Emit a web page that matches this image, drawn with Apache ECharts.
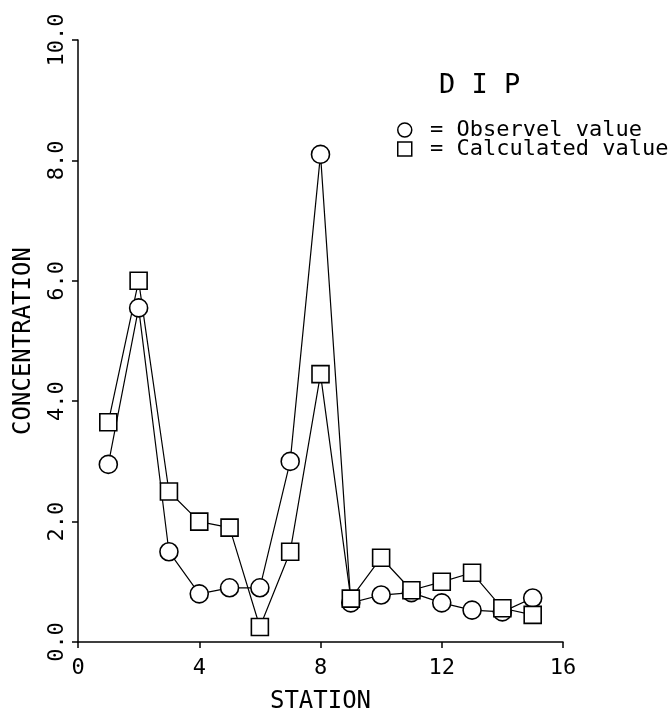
<!DOCTYPE html>
<html>
<head>
<meta charset="utf-8">
<title>DIP</title>
<script src="https://cdn.jsdelivr.net/npm/echarts@6/dist/echarts.min.js"></script>
<style>
  html, body { margin: 0; padding: 0; background: #fff; }
  #chart { width: 670px; height: 715px; }
</style>
</head>
<body>
<div id="chart"></div>
<script>
// station numbers
var stations = [1, 2, 3, 4, 5, 6, 7, 8, 9, 10, 11, 12, 13, 14, 15];
// observed DIP concentration (circles)
var observed = [2.95, 5.55, 1.5, 0.8, 0.9, 0.9, 3.0, 8.1, 0.65, 0.78, 0.82, 0.65, 0.53, 0.5, 0.73];
// calculated DIP concentration (squares)
var calculated = [3.65, 6.0, 2.5, 2.0, 1.9, 0.25, 1.5, 4.45, 0.72, 1.4, 0.86, 1.0, 1.15, 0.56, 0.45];

var FONT = "DejaVu Sans Mono";

function pairs(xs, ys) {
  return xs.map(function (x, i) { return [x, ys[i]]; });
}

var chart = echarts.init(document.getElementById("chart"));

var option = {
  backgroundColor: "#fff",
  animation: false,
  title: {
    text: "D I P",
    left: 434,
    top: 67,
    textStyle: { fontFamily: FONT, fontSize: 27, fontWeight: "normal", color: "#000" }
  },
  legend: {
    orient: "vertical",
    left: 392,
    top: 114,
    itemGap: -3,
    itemWidth: 14,
    itemHeight: 14,
    formatter: " = {name}",
    textStyle: { fontFamily: FONT, fontSize: 22, color: "#000", lineHeight: 19 },
    data: [
      { name: "Observel value", icon: "circle",
        itemStyle: { color: "#fff", borderColor: "#000", borderWidth: 1.5 } },
      { name: "Calculated value", icon: "rect",
        itemStyle: { color: "#fff", borderColor: "#000", borderWidth: 1.5 } }
    ]
  },
  grid: { left: 78, right: 107, top: 40, bottom: 73, outerBoundsMode: "none" },
  xAxis: {
    type: "value",
    min: 0,
    max: 16,
    interval: 4,
    name: "STATION",
    nameLocation: "middle",
    nameGap: 48,
    nameTextStyle: { fontFamily: FONT, fontSize: 24, color: "#000" },
    axisLine: { lineStyle: { color: "#000", width: 1.5 } },
    axisTick: { length: 6, lineStyle: { color: "#000", width: 1.5 } },
    axisLabel: { fontFamily: FONT, fontSize: 22, color: "#000", margin: 15 },
    splitLine: { show: false }
  },
  yAxis: {
    type: "value",
    min: 0,
    max: 10,
    interval: 2,
    name: "CONCENTRATION",
    nameLocation: "middle",
    nameRotate: 90,
    nameGap: 42,
    nameTextStyle: { fontFamily: FONT, fontSize: 24, color: "#000" },
    axisLine: { show: true, lineStyle: { color: "#000", width: 1.5 } },
    axisTick: { show: true, length: 6, lineStyle: { color: "#000", width: 1.5 } },
    axisLabel: {
      fontFamily: FONT, fontSize: 22, color: "#000", rotate: 90, margin: 10,
      formatter: function (v) { return v.toFixed(1); }
    },
    splitLine: { show: false }
  },
  series: [
    {
      name: "Observel value",
      type: "line",
      data: pairs(stations, observed),
      symbol: "circle",
      symbolSize: 18,
      showAllSymbol: true,
      lineStyle: { color: "#000", width: 1.2 },
      itemStyle: { color: "#fff", borderColor: "#000", borderWidth: 1.6 }
    },
    {
      name: "Calculated value",
      type: "line",
      data: pairs(stations, calculated),
      symbol: "rect",
      symbolSize: 17,
      showAllSymbol: true,
      lineStyle: { color: "#000", width: 1.2 },
      itemStyle: { color: "#fff", borderColor: "#000", borderWidth: 1.6 }
    }
  ]
};

chart.setOption(option);
</script>
</body>
</html>
